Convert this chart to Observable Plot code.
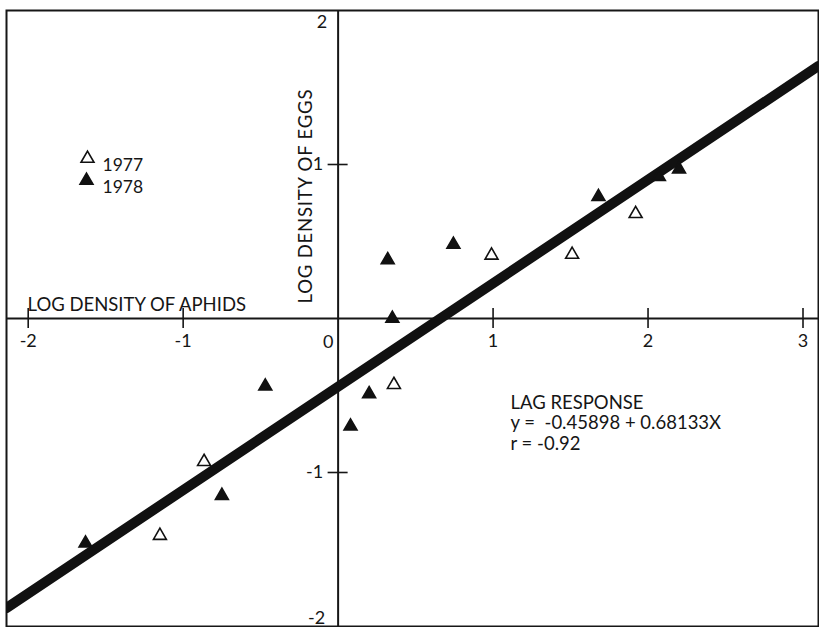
<!DOCTYPE html>
<html>
<head>
<meta charset="utf-8">
<script src="https://cdn.jsdelivr.net/npm/d3@7"></script>
<script src="https://cdn.jsdelivr.net/npm/@observablehq/plot@0.6"></script>
<style>
  html, body { margin: 0; padding: 0; background: #fff; }
  #chart svg { display: block; }
</style>
</head>
<body>
<div id="chart"></div>
<script>
// Observations (log density of aphids, log density of eggs)
const years = ["1977", "1978"];
const aphids1977 = [0.99, 1.51, 1.92, 0.36, -0.865, -1.15];
const eggs1977   = [0.41, 0.415, 0.68, -0.43, -0.93, -1.41];
const aphids1978 = [0.744, 1.68, 2.07, 2.20, 0.32, 0.35, 0.20, 0.08, -0.47, -0.75, -1.63];
const eggs1978   = [0.48, 0.79, 0.92, 0.97, 0.38, 0.0, -0.49, -0.70, -0.44, -1.15, -1.46];

// Fitted lag-response line, endpoints read at the frame edges
const fitX = [-2.14, 3.10];
const fitY = [-1.88, 1.64];

// Axis ticks
const xTicks = [-2, -1, 1, 2, 3];
const xTickLabels = ["-2", "-1", "1", "2", "3"];
const yTicksMid = [1, -1];
const yTickLabelsMid = ["1", "-1"];

const xLabel = "LOG DENSITY OF APHIDS";
const yLabel = "LOG DENSITY OF EGGS";
const noteLines = ["LAG RESPONSE", "y =  -0.45898 + 0.68133X", "r = -0.92"];

const pts = [
  ...aphids1977.map((x, i) => ({x, y: eggs1977[i], year: years[0]})),
  ...aphids1978.map((x, i) => ({x, y: eggs1978[i], year: years[1]}))
];
const fit = fitX.map((x, i) => ({x, y: fitY[i]}));

const ink = "#161616";
const font = "Lato, 'DejaVu Sans', sans-serif";

const chart = Plot.plot({
  width: 819,
  height: 627,
  marginLeft: 6,
  marginTop: 10,
  marginRight: 1,
  marginBottom: 1,
  style: {fontFamily: font, background: "#fff", color: ink},
  x: {domain: [-2.14, 3.10], axis: null},
  y: {domain: [-2.0, 2.0], axis: null},
  marks: [
    Plot.frame({stroke: ink, strokeWidth: 2}),
    Plot.ruleY([0], {stroke: ink, strokeWidth: 2}),
    Plot.ruleX([0], {stroke: ink, strokeWidth: 2}),
    // crossing ticks
    Plot.ruleX(xTicks, {x: d => d, y1: 0, y2: 0, insetTop: -10, insetBottom: -10, stroke: ink, strokeWidth: 1.6}),
    Plot.ruleY(yTicksMid, {y: d => d, x1: 0, x2: 0, insetLeft: -10, insetRight: -10, stroke: ink, strokeWidth: 1.6}),
    // tick labels
    Plot.text(xTicks, {x: d => d, y: 0, text: (d, i) => xTickLabels[i], dy: 23, fontSize: 18, fill: ink}),
    Plot.text(["0"], {x: 0, y: 0, text: d => d, dx: -10, dy: 24, fontSize: 18, fill: ink}),
    Plot.text(yTicksMid, {x: 0, y: d => d, text: (d, i) => yTickLabelsMid[i], textAnchor: "end", dx: -15, fontSize: 18, fill: ink}),
    Plot.text(["2"], {x: 0, y: 2, text: d => d, textAnchor: "end", dx: -11, dy: 12, fontSize: 18, fill: ink}),
    Plot.text(["-2"], {x: 0, y: -2, text: d => d, textAnchor: "end", dx: -13, dy: -8, fontSize: 18, fill: ink}),
    // axis titles
    Plot.text([xLabel], {frameAnchor: "top-left", text: d => d, textAnchor: "start", dx: 21, dy: 287, fontSize: 18.5, fill: ink}),
    Plot.text([yLabel], {x: 0, y: 0, text: d => d, rotate: -90, textAnchor: "start", dx: -32, dy: -15, fontSize: 18.5, fill: ink}),
    // regression line
    Plot.line(fit, {x: "x", y: "y", stroke: "#111", strokeWidth: 10, clip: true}),
    // observations
    Plot.dot(pts, {x: "x", y: "y", symbol: "triangle", r: 4.8,
      fill: d => d.year === years[0] ? "#fff" : "#111",
      stroke: "#111", strokeWidth: 1.6}),
    // legend
    Plot.dot([years[0]], {frameAnchor: "top-left", dx: 81, dy: 148, symbol: "triangle", r: 4.8, fill: "#fff", stroke: "#111", strokeWidth: 1.6}),
    Plot.dot([years[1]], {frameAnchor: "top-left", dx: 80, dy: 170, symbol: "triangle", r: 4.8, fill: "#111", stroke: "#111", strokeWidth: 1.6}),
    Plot.text([years[0]], {frameAnchor: "top-left", text: d => d, textAnchor: "start", dx: 96, dy: 148, fontSize: 17.5, fill: ink}),
    Plot.text([years[1]], {frameAnchor: "top-left", text: d => d, textAnchor: "start", dx: 96, dy: 170, fontSize: 17.5, fill: ink}),
    // annotation
    Plot.text([noteLines.join("\n")], {frameAnchor: "top-left", text: d => d, textAnchor: "start", lineAnchor: "top", lineHeight: 1.1, dx: 504, dy: 384, fontSize: 18.5, fill: ink})
  ]
});
d3.select(chart).selectAll("text")
  .filter(function () { return this.textContent === yLabel; })
  .style("letter-spacing", "0.8px");
document.getElementById("chart").appendChild(chart);
</script>
</body>
</html>
